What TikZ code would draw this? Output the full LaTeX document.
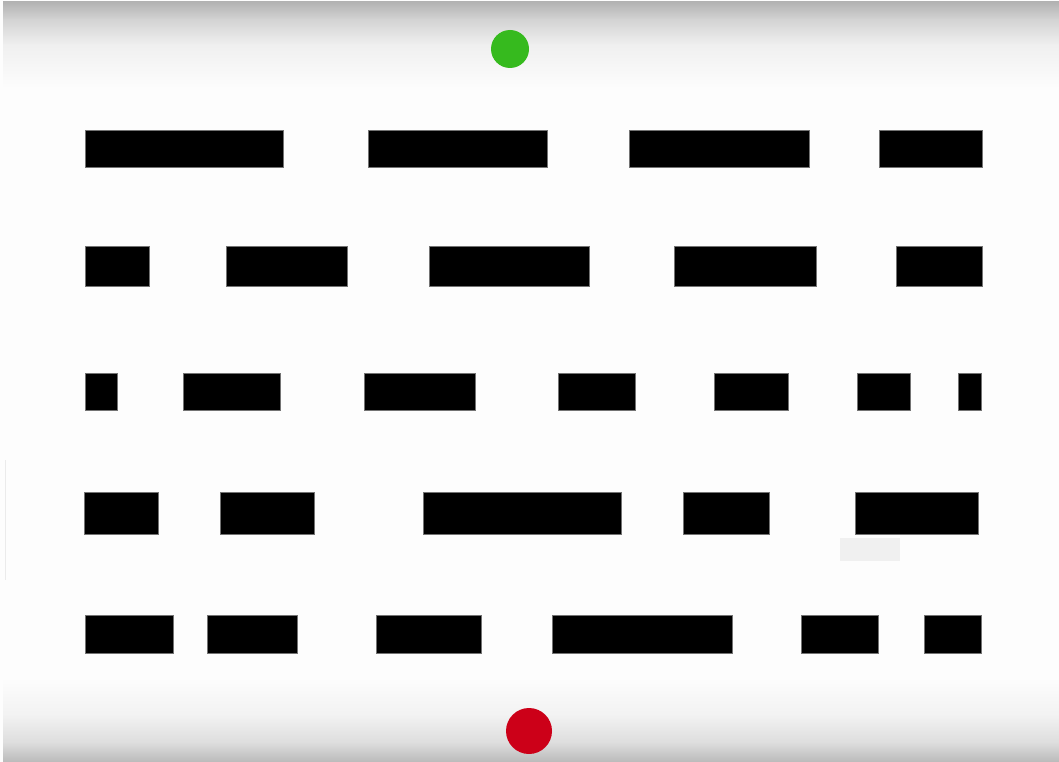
\documentclass[tikz,border=0pt]{standalone}
\usetikzlibrary{calc}
\definecolor{ballgreen}{HTML}{36BA1E}
\definecolor{ballred}{HTML}{CC0018}
\definecolor{bgwhite}{HTML}{FDFDFD}
\begin{document}
\begin{tikzpicture}[x=1pt,y=-1pt,
  wall/.style={fill=black,draw=black!55,line width=0.6pt},
  ghost/.style={fill=black!6,draw=none}]
\useasboundingbox (0,0) rectangle (1059,762);
\fill[bgwhite] (0,0) rectangle (1059,762);
% top fade
\shade[top color=black!30,bottom color=black!17] (3,2) rectangle (1059,20);
\shade[top color=black!17,bottom color=black!6] (3,20) rectangle (1059,45);
\shade[top color=black!6,bottom color=bgwhite] (3,45) rectangle (1059,88);
% bottom fade
\shade[top color=bgwhite,bottom color=black!5] (3,678) rectangle (1059,715);
\shade[top color=black!5,bottom color=black!13] (3,715) rectangle (1059,742);
\shade[top color=black!13,bottom color=black!27] (3,742) rectangle (1059,762);
% faint left line
\draw[black!8,line width=1pt] (5.5,460) -- (5.5,580);
% row 1
\foreach \a/\b in {85/283,368/547,629/809,879/982}
  \draw[wall] (\a,130) rectangle (\b,167);
% row 2
\foreach \a/\b in {85/149,226/347,429/589,674/816,896/982}
  \draw[wall] (\a,246) rectangle (\b,286);
% row 3
\foreach \a/\b in {85/117,183/280,364/475,558/635,714/788,857/910,958/981}
  \draw[wall] (\a,373) rectangle (\b,410);
% row 4
\foreach \a/\b in {84/158,220/314,423/621,683/769,855/978}
  \draw[wall] (\a,492) rectangle (\b,534);
% row 5
\foreach \a/\b in {85/173,207/297,376/481,552/732,801/878,924/981}
  \draw[wall] (\a,615) rectangle (\b,653);
% faint patch
\fill[ghost] (840,538) rectangle (900,561);
% balls
\fill[ballgreen] (510,49) circle (19);
\fill[ballred] (529,731) circle (23);
\end{tikzpicture}
\end{document}
